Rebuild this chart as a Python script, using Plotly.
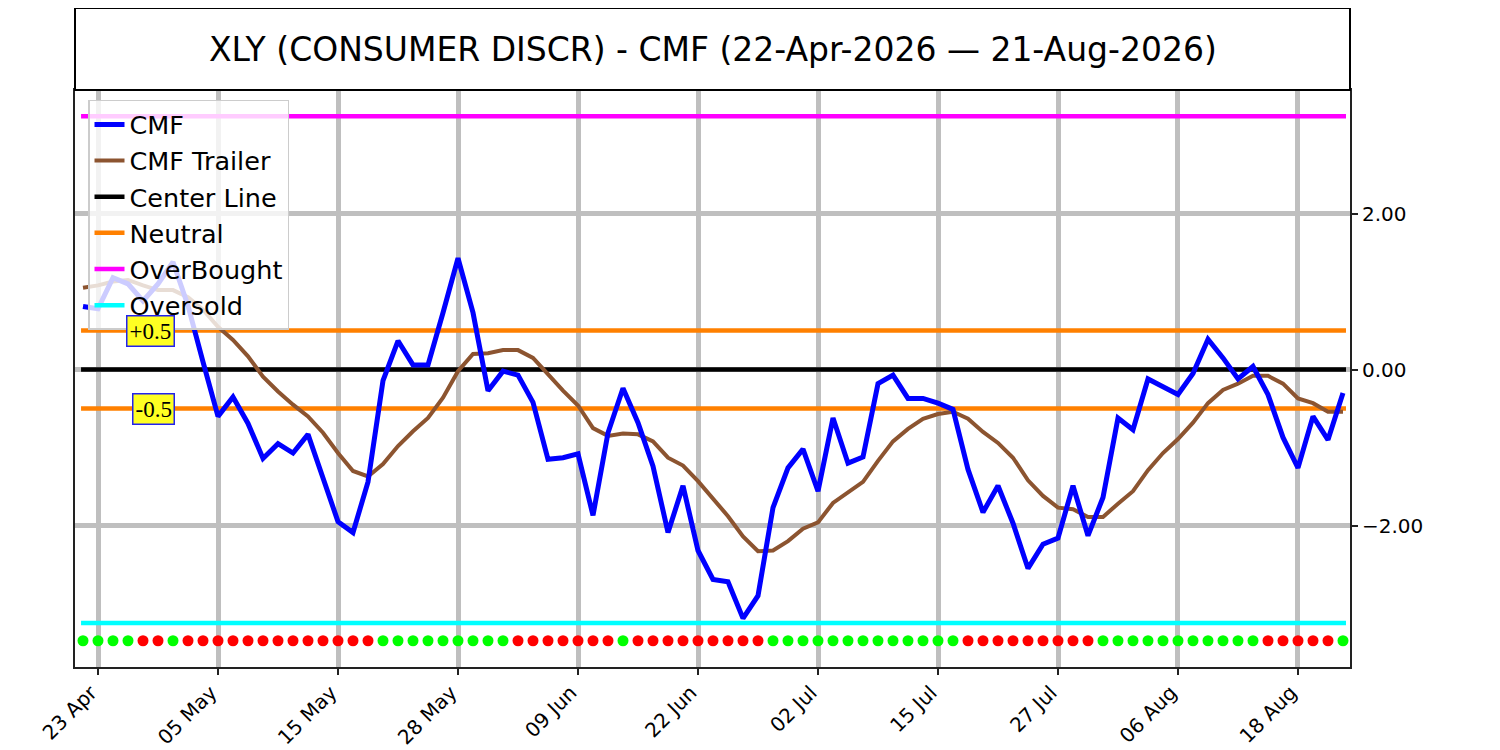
import numpy as np
import pandas as pd
import plotly.graph_objects as go

# Trading days (NYSE calendar, holidays removed)
holidays = ['2026-05-25', '2026-06-19', '2026-07-03']
dates = [d for d in pd.bdate_range('2026-04-22', '2026-08-21') if d.strftime('%Y-%m-%d') not in holidays]
tick_idx = list(range(1, len(dates), 8))
tick_labels = [dates[i].strftime('%d %b') for i in tick_idx]

# CMF and its trailing average
cmf = [0.81, 0.78, 1.18, 1.10, 0.88, 1.10, 1.38, 0.82, 0.10, -0.60,
       -0.35, -0.69, -1.14, -0.95, -1.07, -0.83, -1.39, -1.95, -2.09, -1.44,
       -0.14, 0.37, 0.06, 0.06, 0.73, 1.43, 0.73, -0.27, -0.02, -0.07,
       -0.42, -1.15, -1.13, -1.08, -1.87, -0.81, -0.24, -0.68, -1.24, -2.09,
       -1.49, -2.32, -2.69, -2.72, -3.19, -2.90, -1.77, -1.26, -1.02, -1.56,
       -0.62, -1.20, -1.12, -0.18, -0.07, -0.37, -0.37, -0.43, -0.51, -1.28,
       -1.83, -1.49, -1.97, -2.55, -2.24, -2.16, -1.49, -2.13, -1.64, -0.62,
       -0.77, -0.12, -0.22, -0.32, -0.05, 0.39, 0.15, -0.12, 0.04, -0.32,
       -0.87, -1.26, -0.60, -0.90, -0.30]
trailer = [1.05, 1.08, 1.13, 1.15, 1.08, 1.02, 1.02, 0.93, 0.77, 0.55,
           0.38, 0.17, -0.09, -0.28, -0.45, -0.60, -0.81, -1.07, -1.30, -1.37,
           -1.21, -0.98, -0.79, -0.62, -0.36, -0.02, 0.20, 0.21, 0.25, 0.25,
           0.15, -0.06, -0.27, -0.46, -0.75, -0.85, -0.82, -0.83, -0.92, -1.13,
           -1.23, -1.43, -1.65, -1.88, -2.14, -2.33, -2.32, -2.20, -2.04, -1.96,
           -1.71, -1.58, -1.44, -1.17, -0.92, -0.76, -0.63, -0.57, -0.54, -0.63,
           -0.80, -0.94, -1.13, -1.42, -1.62, -1.77, -1.79, -1.89, -1.89, -1.72,
           -1.56, -1.29, -1.07, -0.89, -0.68, -0.43, -0.26, -0.18, -0.08, -0.08,
           -0.18, -0.37, -0.43, -0.54, -0.54]
# signal dots along the bottom: G = green, R = red
signal = list('GGGGRRG' + 'R' * 13 + 'G' * 9 + 'R' * 7 + 'G' + 'R' * 9
              + 'G' * 13 + 'R' * 9 + 'G' * 11 + 'R' * 5 + 'G')

center = 0.0
neutral = 0.5
overbought = 3.25
oversold = -3.25
dot_level = -3.4775

x = np.arange(len(dates))
x_line = [-0.13, len(dates) - 0.8]
font = 'DejaVu Sans'

fig = go.Figure()
fig.add_trace(go.Scatter(x=x, y=[dot_level] * len(x), mode='markers', showlegend=False,
                         marker=dict(size=11, color=['#00ff00' if s == 'G' else '#ff0000' for s in signal])))
fig.add_trace(go.Scatter(x=x_line, y=[center] * 2, mode='lines', name='Center Line',
                         line=dict(color='black', width=4.5), legendrank=3))
fig.add_trace(go.Scatter(x=x_line + [None] + x_line, y=[neutral] * 2 + [None] + [-neutral] * 2,
                         mode='lines', name='Neutral', line=dict(color='#ff8000', width=4.5), legendrank=4))
fig.add_trace(go.Scatter(x=x_line, y=[overbought] * 2, mode='lines', name='OverBought',
                         line=dict(color='#ff00ff', width=4.5), legendrank=5))
fig.add_trace(go.Scatter(x=x_line, y=[oversold] * 2, mode='lines', name='Oversold',
                         line=dict(color='#00ffff', width=4.5), legendrank=6))
fig.add_trace(go.Scatter(x=x, y=trailer, mode='lines', name='CMF Trailer',
                         line=dict(color='#8c5430', width=4), legendrank=2))
fig.add_trace(go.Scatter(x=x, y=cmf, mode='lines', name='CMF',
                         line=dict(color='#0000ff', width=5), legendrank=1))

# +0.5 / -0.5 labels
for lvl, txt in [(neutral, '+0.5'), (-neutral, '-0.5')]:
    fig.add_annotation(x=6.13, y=lvl, text=txt, showarrow=False, xanchor='right',
                       font=dict(family='Liberation Serif', size=23, color='black'),
                       bgcolor='#ffff22', bordercolor='#2222ee', borderwidth=1.5, borderpad=2)

# title box
fig.add_shape(type='rect', xref='paper', yref='paper', x0=0, x1=1, y0=1, y1=1.1421,
              line=dict(color='black', width=2), fillcolor='white')
fig.add_annotation(xref='paper', yref='paper', x=0.5, y=1.071, showarrow=False,
                   text='XLY (CONSUMER DISCR) - CMF (22-Apr-2026 \u2014 21-Aug-2026)',
                   font=dict(family=font, size=33, color='black'), yanchor='middle')

fig.update_layout(
    width=1492, height=742,
    margin=dict(l=67, r=150, t=82, b=83),
    plot_bgcolor='white', paper_bgcolor='white',
    font=dict(family=font, color='black'),
    showlegend=True,
    legend=dict(x=0.0102, y=0.983, xanchor='left', yanchor='top',
                bgcolor='rgba(255,255,255,0.8)', bordercolor='#cccccc', borderwidth=1.5,
                font=dict(family=font, size=25.5, color='black'), itemwidth=30),
    xaxis=dict(range=[-0.533, len(dates) - 0.533], tickvals=tick_idx, ticktext=tick_labels,
               tickangle=-45, tickfont=dict(size=20), ticks='outside', ticklen=6, tickwidth=1.5,
               ticklabelshift=-7, ticklabelstandoff=-2,
               tickcolor='#222', showgrid=True, gridcolor='#bfbfbf', gridwidth=4.5, automargin=False,
               showline=True, linecolor='#222', linewidth=2, mirror=True, zeroline=False),
    yaxis=dict(range=[-3.814, 3.586], side='right', tickvals=[-2, 0, 2], tickformat='.2f',
               tickfont=dict(size=20), ticks='outside', ticklen=6, tickwidth=1.5, tickcolor='#222',
               showgrid=True, gridcolor='#bfbfbf', gridwidth=4.5, automargin=False,
               showline=True, linecolor='#222', linewidth=2, mirror=True, zeroline=False),
)

fig.write_html('out.html')
